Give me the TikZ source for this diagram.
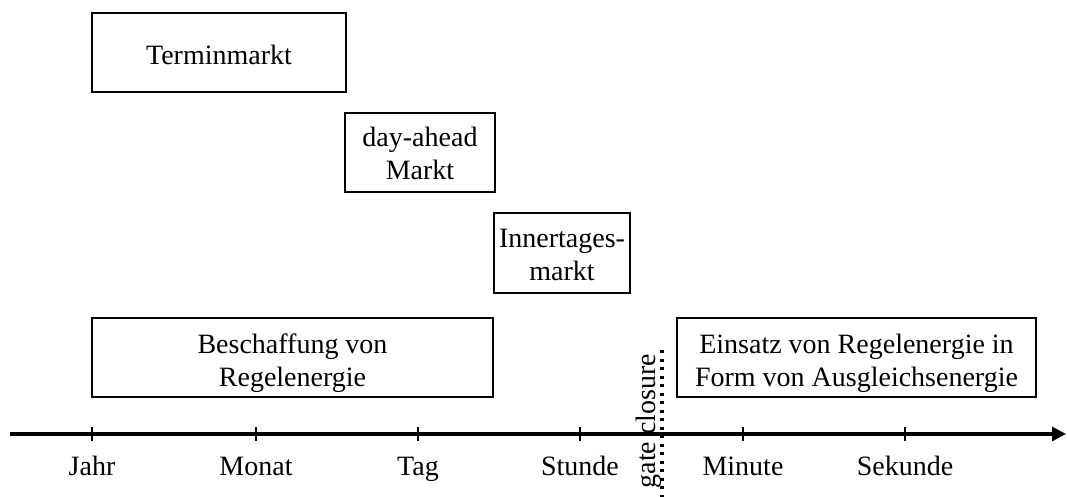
\documentclass[tikz,border=0pt]{standalone}
\usepackage{fontspec}
\setmainfont{Liberation Serif}
\usetikzlibrary{arrows.meta}
% text block lowered inside its box without changing the box size
\newcommand{\lowtext}[2]{\raisebox{-#1}[\height][\depth]{\begin{tabular}{@{}c@{}}#2\end{tabular}}}
\begin{document}
\begin{tikzpicture}[x=1pt,y=-1pt,
  market/.style={draw,line width=2.8pt,rectangle,inner sep=0pt,font=\fontsize{28}{33}\selectfont},
  ticklabel/.style={font=\fontsize{28}{33}\selectfont,anchor=base},
  tick/.style={line width=2.8pt}]
\useasboundingbox (0,0) rectangle (1067,497);

% market phases
\node[market,minimum width=254pt,minimum height=79pt] (termin) at (219,52.5) {\lowtext{5pt}{Terminmarkt}};
\node[market,minimum width=150pt,minimum height=79pt] (dayahead) at (420,152.5) {\lowtext{4pt}{day-ahead\\Markt}};
\node[market,minimum width=136pt,minimum height=80pt] (intraday) at (562,253) {\lowtext{4pt}{Innertages-\\markt}};
\node[market,minimum width=401pt,minimum height=79pt] (beschaffung) at (292.5,357.5) {\lowtext{6pt}{Beschaffung von\\Regelenergie}};
\node[market,minimum width=359pt,minimum height=79pt] (einsatz) at (856.5,357.5) {\lowtext{6pt}{Einsatz von Regelenergie in\\Form von Ausgleichsenergie}};

% time axis
\coordinate (axstart) at (10,434);
\coordinate (axend) at (1066,434);
\draw[line width=3.2pt,-{Triangle[length=14pt,width=14pt]}] (axstart) -- (axend);

\foreach \x/\name/\lab in {92/jahr/Jahr,256/monat/Monat,418/tag/Tag,580/stunde/Stunde,743/minute/Minute,905/sekunde/Sekunde}{
  \coordinate (t\name) at (\x,434);
  \draw[tick] ([yshift=-7pt]t\name) -- ([yshift=7pt]t\name);
  \node[ticklabel] (l\name) at (\x,475) {\lab};
}

% gate closure
\coordinate (gtop) at (662,350);
\coordinate (gbot) at (662,497);
\draw[line width=3.2pt,dash pattern=on 3pt off 5.5pt] (gtop) -- (gbot);
\node[rotate=90,font=\fontsize{28}{33}\selectfont,anchor=base] (gate) at (655,421) {gate closure};
\end{tikzpicture}
\end{document}
